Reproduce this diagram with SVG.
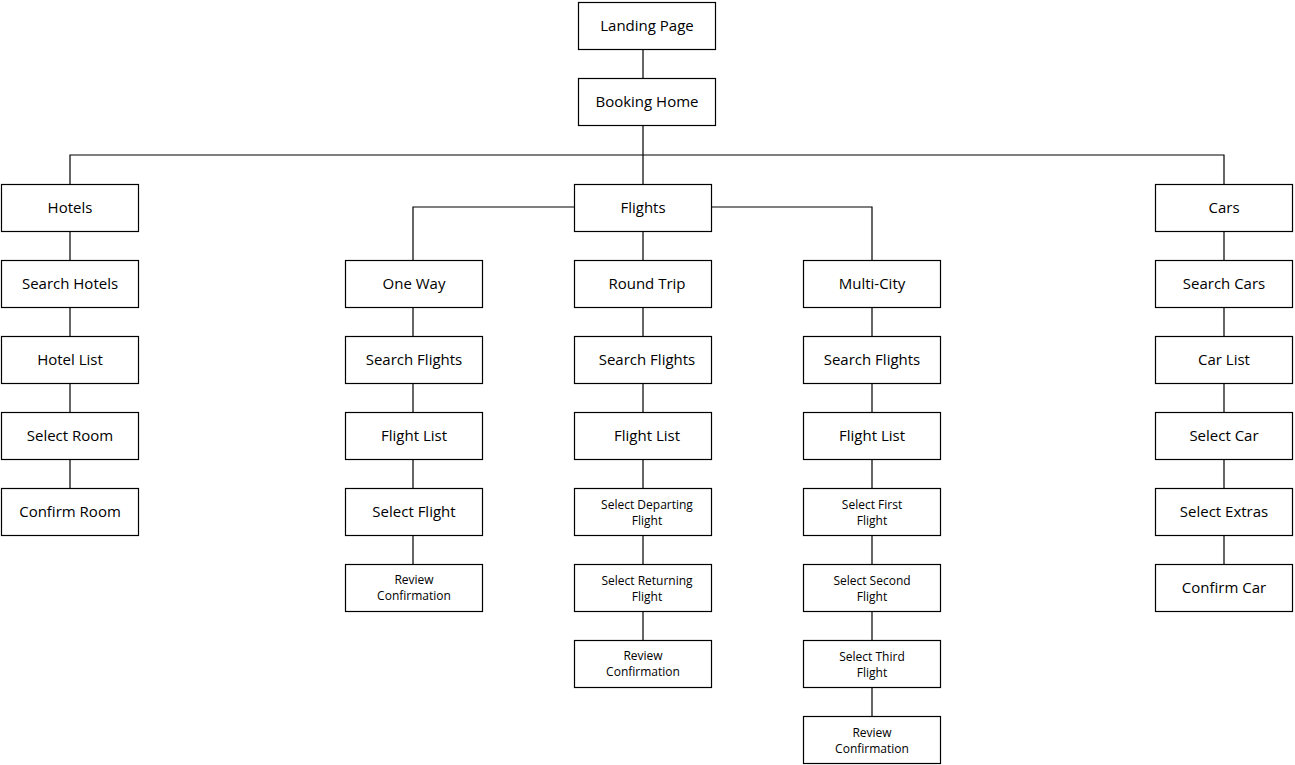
<svg xmlns="http://www.w3.org/2000/svg" width="1295" height="765" viewBox="0 0 1295 765">
<style>
rect{fill:#fff;stroke:#000;stroke-width:1.2}
text{font-family:"Open Sans","Noto Sans",sans-serif;font-size:15px;text-anchor:middle;fill:#000}
text.s{font-size:12px}
#connectors path{fill:none;stroke:#000;stroke-width:1.2}
</style>
<rect width="1295" height="765" style="fill:#fff;stroke:none"/>
<g id="connectors">
<path d="M643 49V78M643 125V184M70 184V155H1224V184"/>
<path d="M70 231V488"/>
<path d="M574 207H413V260M711 207H872V260M643 231V640"/>
<path d="M413 307V564M872 307V716M1224 231V564"/>
</g>
<g id="n1"><rect x="578.5" y="2.5" width="137" height="47"/><text x="647" y="31">Landing Page</text></g>
<g id="n2"><rect x="578.5" y="78.5" width="137" height="47"/><text x="647" y="107">Booking Home</text></g>
<g id="h1"><rect x="1.5" y="184.5" width="137" height="47"/><text x="70" y="213">Hotels</text></g>
<g id="h2"><rect x="1.5" y="260.5" width="137" height="47"/><text x="70" y="289">Search Hotels</text></g>
<g id="h3"><rect x="1.5" y="336.5" width="137" height="47"/><text x="70" y="365">Hotel List</text></g>
<g id="h4"><rect x="1.5" y="412.5" width="137" height="47"/><text x="70" y="441">Select Room</text></g>
<g id="h5"><rect x="1.5" y="488.5" width="137" height="47"/><text x="70" y="517">Confirm Room</text></g>
<g id="f0"><rect x="574.5" y="184.5" width="137" height="47"/><text x="643" y="213">Flights</text></g>
<g id="o1"><rect x="345.5" y="260.5" width="137" height="47"/><text x="414" y="289">One Way</text></g>
<g id="o2"><rect x="345.5" y="336.5" width="137" height="47"/><text x="414" y="365">Search Flights</text></g>
<g id="o3"><rect x="345.5" y="412.5" width="137" height="47"/><text x="414" y="441">Flight List</text></g>
<g id="o4"><rect x="345.5" y="488.5" width="137" height="47"/><text x="414" y="517">Select Flight</text></g>
<g id="o5"><rect x="345.5" y="564.5" width="137" height="47"/><text class="s" x="414" y="584">Review</text><text class="s" x="414" y="600">Confirmation</text></g>
<g id="r1"><rect x="574.5" y="260.5" width="137" height="47"/><text x="647" y="289">Round Trip</text></g>
<g id="r2"><rect x="574.5" y="336.5" width="137" height="47"/><text x="647" y="365">Search Flights</text></g>
<g id="r3"><rect x="574.5" y="412.5" width="137" height="47"/><text x="647" y="441">Flight List</text></g>
<g id="r4"><rect x="574.5" y="488.5" width="137" height="47"/><text class="s" x="647" y="509">Select Departing</text><text class="s" x="647" y="525">Flight</text></g>
<g id="r5"><rect x="574.5" y="564.5" width="137" height="47"/><text class="s" x="647" y="585">Select Returning</text><text class="s" x="647" y="601">Flight</text></g>
<g id="r6"><rect x="574.5" y="640.5" width="137" height="47"/><text class="s" x="643" y="660">Review</text><text class="s" x="643" y="676">Confirmation</text></g>
<g id="m1"><rect x="803.5" y="260.5" width="137" height="47"/><text x="872" y="289">Multi-City</text></g>
<g id="m2"><rect x="803.5" y="336.5" width="137" height="47"/><text x="872" y="365">Search Flights</text></g>
<g id="m3"><rect x="803.5" y="412.5" width="137" height="47"/><text x="872" y="441">Flight List</text></g>
<g id="m4"><rect x="803.5" y="488.5" width="137" height="47"/><text class="s" x="872" y="509">Select First</text><text class="s" x="872" y="525">Flight</text></g>
<g id="m5"><rect x="803.5" y="564.5" width="137" height="47"/><text class="s" x="872" y="585">Select Second</text><text class="s" x="872" y="601">Flight</text></g>
<g id="m6"><rect x="803.5" y="640.5" width="137" height="47"/><text class="s" x="872" y="661">Select Third</text><text class="s" x="872" y="677">Flight</text></g>
<g id="m7"><rect x="803.5" y="716.5" width="137" height="47"/><text class="s" x="872" y="737">Review</text><text class="s" x="872" y="753">Confirmation</text></g>
<g id="c1"><rect x="1155.5" y="184.5" width="137" height="47"/><text x="1224" y="213">Cars</text></g>
<g id="c2"><rect x="1155.5" y="260.5" width="137" height="47"/><text x="1224" y="289">Search Cars</text></g>
<g id="c3"><rect x="1155.5" y="336.5" width="137" height="47"/><text x="1224" y="365">Car List</text></g>
<g id="c4"><rect x="1155.5" y="412.5" width="137" height="47"/><text x="1224" y="441">Select Car</text></g>
<g id="c5"><rect x="1155.5" y="488.5" width="137" height="47"/><text x="1224" y="517">Select Extras</text></g>
<g id="c6"><rect x="1155.5" y="564.5" width="137" height="47"/><text x="1224" y="593">Confirm Car</text></g>
</svg>
